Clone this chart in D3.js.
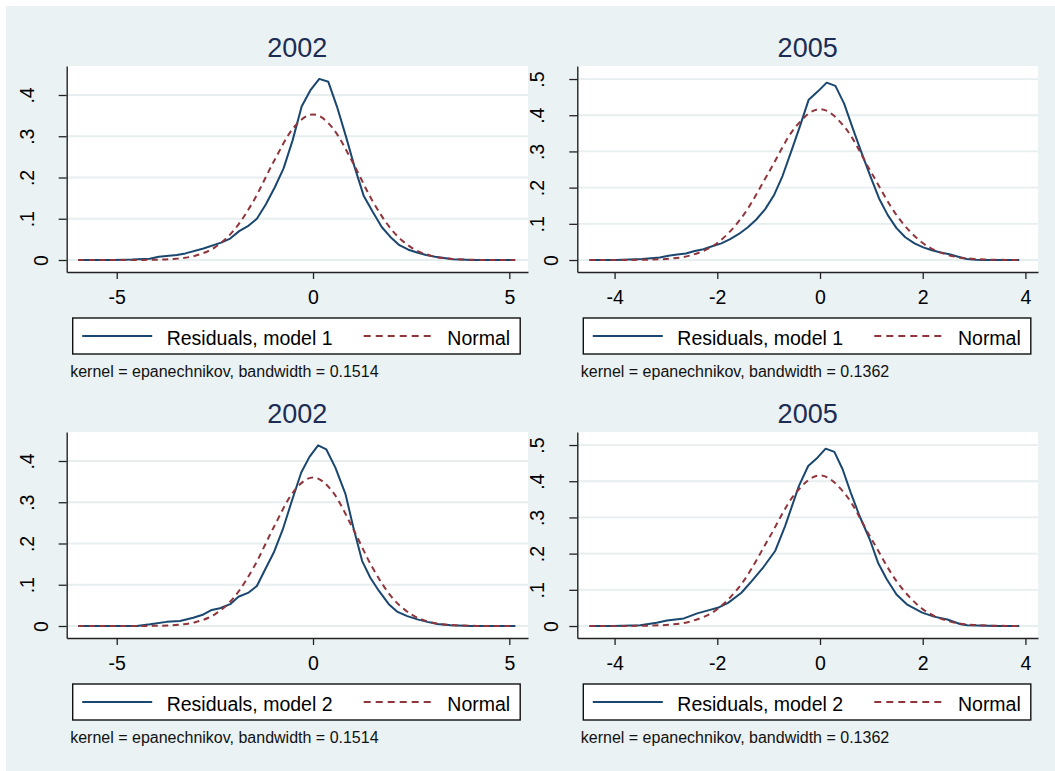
<!DOCTYPE html>
<meta charset="utf-8">
<style>
body { margin: 0; background: #fff; }
text { font-family: "Liberation Sans", Arial, sans-serif; }
</style>
<svg width="1055" height="771"></svg>
<script src="https://d3js.org/d3.v7.min.js"></script>
<script>

// kernel density of residuals
var kdeX_02_m1 = [-5.98,-5.07,-4.61,-4.16,-3.93,-3.47,-3.25,-2.79,-2.34,-2.11,-1.88,-1.66,-1.43,-1.2,-0.97,-0.75,-0.52,-0.29,-0.07,0.16,0.39,0.61,0.84,1.07,1.29,1.52,1.75,1.97,2.2,2.43,2.65,2.88,3.11,3.34,3.56,3.79,4.02,4.47,5.15];
var kdeY_02_m1 = [0,0,0.001,0.003,0.008,0.012,0.016,0.028,0.042,0.052,0.07,0.082,0.1,0.135,0.177,0.222,0.29,0.372,0.411,0.439,0.432,0.372,0.299,0.222,0.156,0.117,0.08,0.056,0.036,0.025,0.018,0.012,0.008,0.005,0.002,0.001,0,0,0];

var kdeX_05_m1 = [-4.49,-3.97,-3.46,-3.12,-2.95,-2.78,-2.61,-2.44,-2.27,-2.1,-1.92,-1.75,-1.58,-1.41,-1.24,-1.07,-0.9,-0.73,-0.56,-0.39,-0.22,-0.04,0.13,0.3,0.47,0.64,0.81,0.98,1.15,1.32,1.49,1.66,1.84,2.01,2.18,2.35,2.52,2.69,2.86,3.03,3.2,3.88];
var kdeY_05_m1 = [0,0,0.003,0.007,0.012,0.015,0.018,0.025,0.03,0.038,0.046,0.058,0.072,0.09,0.112,0.14,0.178,0.232,0.3,0.37,0.443,0.466,0.49,0.481,0.432,0.363,0.296,0.232,0.17,0.124,0.088,0.063,0.046,0.035,0.027,0.021,0.016,0.009,0.003,0.001,0,0];

var kdeX_02_m2 = [-5.98,-4.49,-4.15,-3.73,-3.39,-3.05,-2.79,-2.58,-2.37,-2.11,-1.9,-1.64,-1.43,-1.22,-1.0,-0.77,-0.54,-0.3,-0.09,0.13,0.34,0.57,0.83,1.02,1.25,1.46,1.68,1.93,2.14,2.4,2.66,2.91,3.17,3.51,4.02,5.15];
var kdeY_02_m2 = [0,0,0.004,0.01,0.012,0.02,0.028,0.039,0.043,0.053,0.071,0.081,0.097,0.137,0.178,0.234,0.303,0.372,0.41,0.438,0.428,0.384,0.319,0.242,0.158,0.117,0.085,0.053,0.035,0.024,0.016,0.01,0.005,0.002,0,0];

var kdeX_05_m2 = [-4.49,-4.03,-3.5,-3.18,-2.98,-2.65,-2.39,-2.16,-1.96,-1.79,-1.53,-1.33,-1.1,-0.87,-0.68,-0.41,-0.23,-0.05,0.11,0.28,0.44,0.6,0.77,0.97,1.13,1.3,1.49,1.69,1.99,2.22,2.48,2.74,2.87,3.46,3.88];
var kdeY_05_m2 = [0,0,0.002,0.009,0.015,0.021,0.035,0.044,0.052,0.064,0.092,0.124,0.163,0.208,0.276,0.387,0.442,0.465,0.49,0.481,0.433,0.368,0.304,0.239,0.175,0.129,0.087,0.06,0.037,0.026,0.018,0.005,0.002,0,0];

// normal density overlays
var normX_02 = [-5.98,-5.5,-5,-4.5,-4,-3.5,-3,-2.5,-2,-1.5,-1,-0.5,0,0.5,1,1.5,2,2.5,3,3.5,4,4.5,5,5.15];
var normY_02_m1 = [0,0,0,0.0001,0.0007,0.003,0.0104,0.0306,0.0737,0.1457,0.2387,0.32,0.353,0.32,0.2387,0.1457,0.0737,0.0306,0.0104,0.003,0.0007,0.0001,0,0];
var normY_02_m2 = [0,0,0,0.0001,0.0005,0.0024,0.0092,0.0283,0.0707,0.1441,0.2395,0.3253,0.36,0.3253,0.2395,0.1441,0.0707,0.0283,0.0092,0.0024,0.0005,0.0001,0,0];

var normX_05 = [-4.49,-4,-3.5,-3,-2.5,-2,-1.5,-1,-0.5,0,0.5,1,1.5,2,2.5,3,3.5,3.88];
var normY_05_m1 = [0,0.0001,0.0005,0.003,0.0137,0.0469,0.1222,0.2415,0.3635,0.417,0.3635,0.2415,0.1222,0.0469,0.0137,0.003,0.0005,0.0001];
var normY_05_m2 = [0,0.0001,0.0005,0.003,0.0136,0.0467,0.1219,0.2411,0.3628,0.416,0.3628,0.2411,0.1219,0.0467,0.0136,0.003,0.0005,0.0001];

var xTicks_02 = [-5, 0, 5];
var xTicks_05 = [-4, -2, 0, 2, 4];
var yTicks_02 = [0, 0.1, 0.2, 0.3, 0.4];
var yTicks_05 = [0, 0.1, 0.2, 0.3, 0.4, 0.5];

var titles = ["2002", "2005", "2002", "2005"];
var seriesNames = ["Residuals, model 1", "Residuals, model 1", "Residuals, model 2", "Residuals, model 2"];
var notes = ["kernel = epanechnikov, bandwidth = 0.1514", "kernel = epanechnikov, bandwidth = 0.1362",
             "kernel = epanechnikov, bandwidth = 0.1514", "kernel = epanechnikov, bandwidth = 0.1362"];

var navy = "#1a476f", maroon = "#90353b";

var panels = [
  {col:0, row:0, kx:kdeX_02_m1, ky:kdeY_02_m1, nx:normX_02, ny:normY_02_m1, xt:xTicks_02, yt:yTicks_02, xd:[-6.274,5.476], yd:[-0.0291,0.4703]},
  {col:1, row:0, kx:kdeX_05_m1, ky:kdeY_05_m1, nx:normX_05, ny:normY_05_m1, xt:xTicks_05, yt:yTicks_05, xd:[-4.726,4.245], yd:[-0.0331,0.536]},
  {col:0, row:1, kx:kdeX_02_m2, ky:kdeY_02_m2, nx:normX_02, ny:normY_02_m2, xt:xTicks_02, yt:yTicks_02, xd:[-6.274,5.476], yd:[-0.0291,0.4703]},
  {col:1, row:1, kx:kdeX_05_m2, ky:kdeY_05_m2, nx:normX_05, ny:normY_05_m2, xt:xTicks_05, yt:yTicks_05, xd:[-4.726,4.245], yd:[-0.0331,0.536]}
];

var colX = [[66.7, 528], [577.3, 1038]];
var rowY = [[66, 272], [432, 638]];

var svg = d3.select("svg");

svg.append("rect")
  .attr("x", 6).attr("y", 6).attr("width", 1049).attr("height", 765)
  .attr("fill", "#eaf2f3");

function yFmt(d) { return d === 0 ? "0" : String(d).replace(/^0/, ""); }

panels.forEach(function(p, i) {
  var x0 = colX[p.col][0], x1 = colX[p.col][1];
  var y0 = rowY[p.row][0], y1 = rowY[p.row][1];

  var x = d3.scaleLinear().domain(p.xd).range([x0, x1]);
  var y = d3.scaleLinear().domain(p.yd).range([y1, y0]);

  // plot region
  svg.append("rect")
    .attr("x", x0).attr("y", y0).attr("width", x1 - x0).attr("height", y1 - y0)
    .attr("fill", "#fff");

  // grid
  svg.append("g").selectAll("line")
    .data(p.yt)
    .join("line")
      .attr("x1", x0).attr("x2", x1)
      .attr("y1", function(d) { return y(d); })
      .attr("y2", function(d) { return y(d); })
      .attr("stroke", "#e6eef0")
      .attr("stroke-width", 1.8);

  // title
  svg.append("text")
    .attr("x", (x0 + x1) / 2).attr("y", y0 - 9)
    .attr("text-anchor", "middle")
    .style("font-size", "27px")
    .attr("fill", "#1c2c54")
    .text(titles[i]);

  // y axis
  var ya = svg.append("g")
    .attr("transform", "translate(" + x0 + ",0)")
    .call(d3.axisLeft(y).tickValues(p.yt).tickSize(8).tickSizeOuter(0).tickFormat(yFmt));
  ya.select(".domain").attr("stroke", "#222").attr("stroke-width", 1.4);
  ya.selectAll(".tick line").attr("stroke", "#222").attr("stroke-width", 1.3);
  ya.selectAll(".tick text")
    .attr("x", null).attr("dy", null)
    .attr("text-anchor", "middle")
    .attr("fill", "#000")
    .style("font-size", "19.5px")
    .attr("transform", function(d) { return "translate(" + (d === 0 ? -19 : -33) + ",0) rotate(-90)"; });

  // x axis
  var xa = svg.append("g")
    .attr("transform", "translate(0," + y1 + ")")
    .call(d3.axisBottom(x).tickValues(p.xt).tickSize(7).tickSizeOuter(0).tickFormat(function(d) { return String(d); }));
  xa.select(".domain").attr("stroke", "#222").attr("stroke-width", 1.4);
  xa.selectAll(".tick line").attr("stroke", "#222").attr("stroke-width", 1.3);
  xa.selectAll(".tick text")
    .attr("y", 31.5).attr("dy", null)
    .attr("fill", "#000")
    .style("font-size", "19.5px");

  // curves
  var line = d3.line().x(function(d) { return x(d[0]); }).y(function(d) { return y(d[1]); });
  var smooth = d3.line().curve(d3.curveMonotoneX).x(function(d) { return x(d[0]); }).y(function(d) { return y(d[1]); });

  svg.append("path")
    .datum(d3.zip(p.kx, p.ky))
    .attr("d", line)
    .attr("fill", "none")
    .attr("stroke", navy)
    .attr("stroke-width", 2)
    .attr("stroke-linejoin", "round");

  svg.append("path")
    .datum(d3.zip(p.nx, p.ny))
    .attr("d", smooth)
    .attr("fill", "none")
    .attr("stroke", maroon)
    .attr("stroke-width", 2)
    .attr("stroke-dasharray", "6,4.5");

  // legend
  var bx = x0 + 6, by = y1 + 46, bw = 447.5, bh = 36;
  var lg = svg.append("g");
  lg.append("rect")
    .attr("x", bx).attr("y", by).attr("width", bw).attr("height", bh)
    .attr("fill", "#fff").attr("stroke", "#111").attr("stroke-width", 1.4);
  lg.append("line")
    .attr("x1", bx + 9.5).attr("x2", bx + 79.5)
    .attr("y1", by + 18).attr("y2", by + 18)
    .attr("stroke", navy).attr("stroke-width", 2);
  lg.append("text")
    .attr("x", bx + 94).attr("y", by + 27)
    .style("font-size", "19.5px")
    .text(seriesNames[i]);
  lg.append("line")
    .attr("x1", bx + 291).attr("x2", bx + 361)
    .attr("y1", by + 18).attr("y2", by + 18)
    .attr("stroke", maroon).attr("stroke-width", 2)
    .attr("stroke-dasharray", "7,5");
  lg.append("text")
    .attr("x", bx + bw - 10).attr("y", by + 27)
    .attr("text-anchor", "end")
    .style("font-size", "19.5px")
    .text("Normal");

  // note
  svg.append("text")
    .attr("x", x0 + 3.5).attr("y", y1 + 105.3)
    .style("font-size", "16px")
    .attr("fill", "#111")
    .text(notes[i]);
});

</script>
